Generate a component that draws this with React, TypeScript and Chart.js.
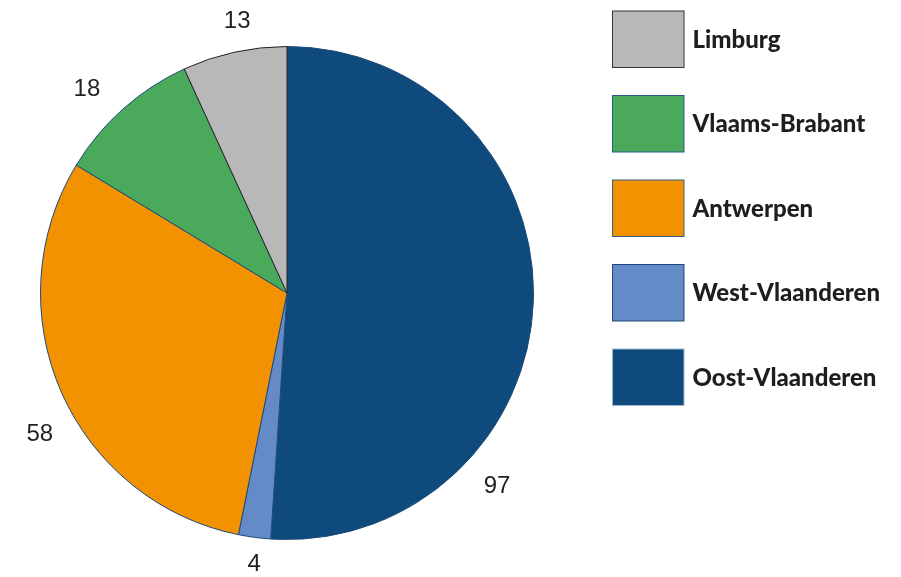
import React, { useEffect, useRef } from "react";
import { Chart, registerables } from "chart.js";

Chart.register(...registerables);

const categories = ["Oost-Vlaanderen", "West-Vlaanderen", "Antwerpen", "Vlaams-Brabant", "Limburg"];
const values = [97, 4, 58, 18, 13];
const sliceColors = ["#0f4a7c", "#648bc8", "#f39200", "#4aa95a", "#b8b8b8"];
const sliceBorders = ["#1d4a78", "#1d4a78", "#1d4a78", "#1d4a78", "#222222"];
const legendBorders = ["#9fbad6", "#1d4a78", "#3a5f8a", "#2a5a8a", "#333333"];
// label placement: angle offset from slice mid (deg) and distance beyond outer radius (px)
const labelAngleOffset = [40.5, -0.6, -5.8, -2.6, 2.0];
const labelRadialOffset = [38, 24.5, 37.5, 40, 32];

const valueLabelPlugin = {
  id: "valueLabels",
  afterDatasetsDraw(chart: any) {
    const ctx = chart.ctx;
    const meta = chart.getDatasetMeta(0);
    ctx.save();
    const size = 24;
    ctx.font = `${size}px "Liberation Sans", Arial, sans-serif`;
    ctx.fillStyle = "#231f20";
    ctx.textAlign = "center";
    ctx.textBaseline = "alphabetic";
    meta.data.forEach((arc: any, i: number) => {
      const p = arc.getProps(["x", "y", "startAngle", "endAngle", "outerRadius"], true);
      const mid = (p.startAngle + p.endAngle) / 2 + (labelAngleOffset[i] * Math.PI) / 180;
      const r = p.outerRadius + labelRadialOffset[i];
      const x = p.x + Math.cos(mid) * r;
      const y = p.y + Math.sin(mid) * r;
      ctx.fillText(String(values[i]), x, y + size * 0.358);
    });
    ctx.restore();
  },
};

const legendPlugin = {
  id: "customLegend",
  afterDraw(chart: any) {
    const ctx = chart.ctx;
    ctx.save();
    const boxX = 612.5;
    const boxW = 71.5;
    const boxH = 56.5;
    const firstY = 11;
    const step = 84.5;
    const size = 24;
    ctx.font = `900 ${size}px Lato, "Open Sans", sans-serif`;
    ctx.textAlign = "left";
    ctx.textBaseline = "alphabetic";
    const order = [4, 3, 2, 1, 0];
    order.forEach((idx, row) => {
      const y = firstY + row * step;
      ctx.fillStyle = sliceColors[idx];
      ctx.fillRect(boxX, y, boxW, boxH);
      ctx.lineWidth = 1;
      ctx.strokeStyle = legendBorders[idx];
      ctx.strokeRect(boxX, y, boxW, boxH);
      ctx.fillStyle = "#1e1e1e";
      ctx.fillText(categories[idx], 692.5, y + boxH / 2 + size * 0.36);
    });
    ctx.restore();
  },
};

export default function App() {
  const ref = useRef<HTMLCanvasElement>(null);
  useEffect(() => {
    if (!ref.current) return;
    const chart = new Chart(ref.current, {
      type: "pie",
      data: {
        labels: categories,
        datasets: [
          {
            data: values,
            backgroundColor: sliceColors,
            borderColor: sliceBorders,
            borderWidth: 1,
          },
        ],
      },
      options: {
        responsive: false,
        animation: false,
        layout: { padding: { left: 40, right: 367, top: 46, bottom: 37 } },
        plugins: {
          legend: { display: false },
          tooltip: { enabled: false },
        },
      },
      plugins: [valueLabelPlugin, legendPlugin],
    });
    return () => chart.destroy();
  }, []);
  return (
    <div style={{ position: "absolute", left: 0, top: 0, width: 901, height: 577, background: "#fff" }}>
      <canvas ref={ref} width={901} height={577} />
    </div>
  );
}
